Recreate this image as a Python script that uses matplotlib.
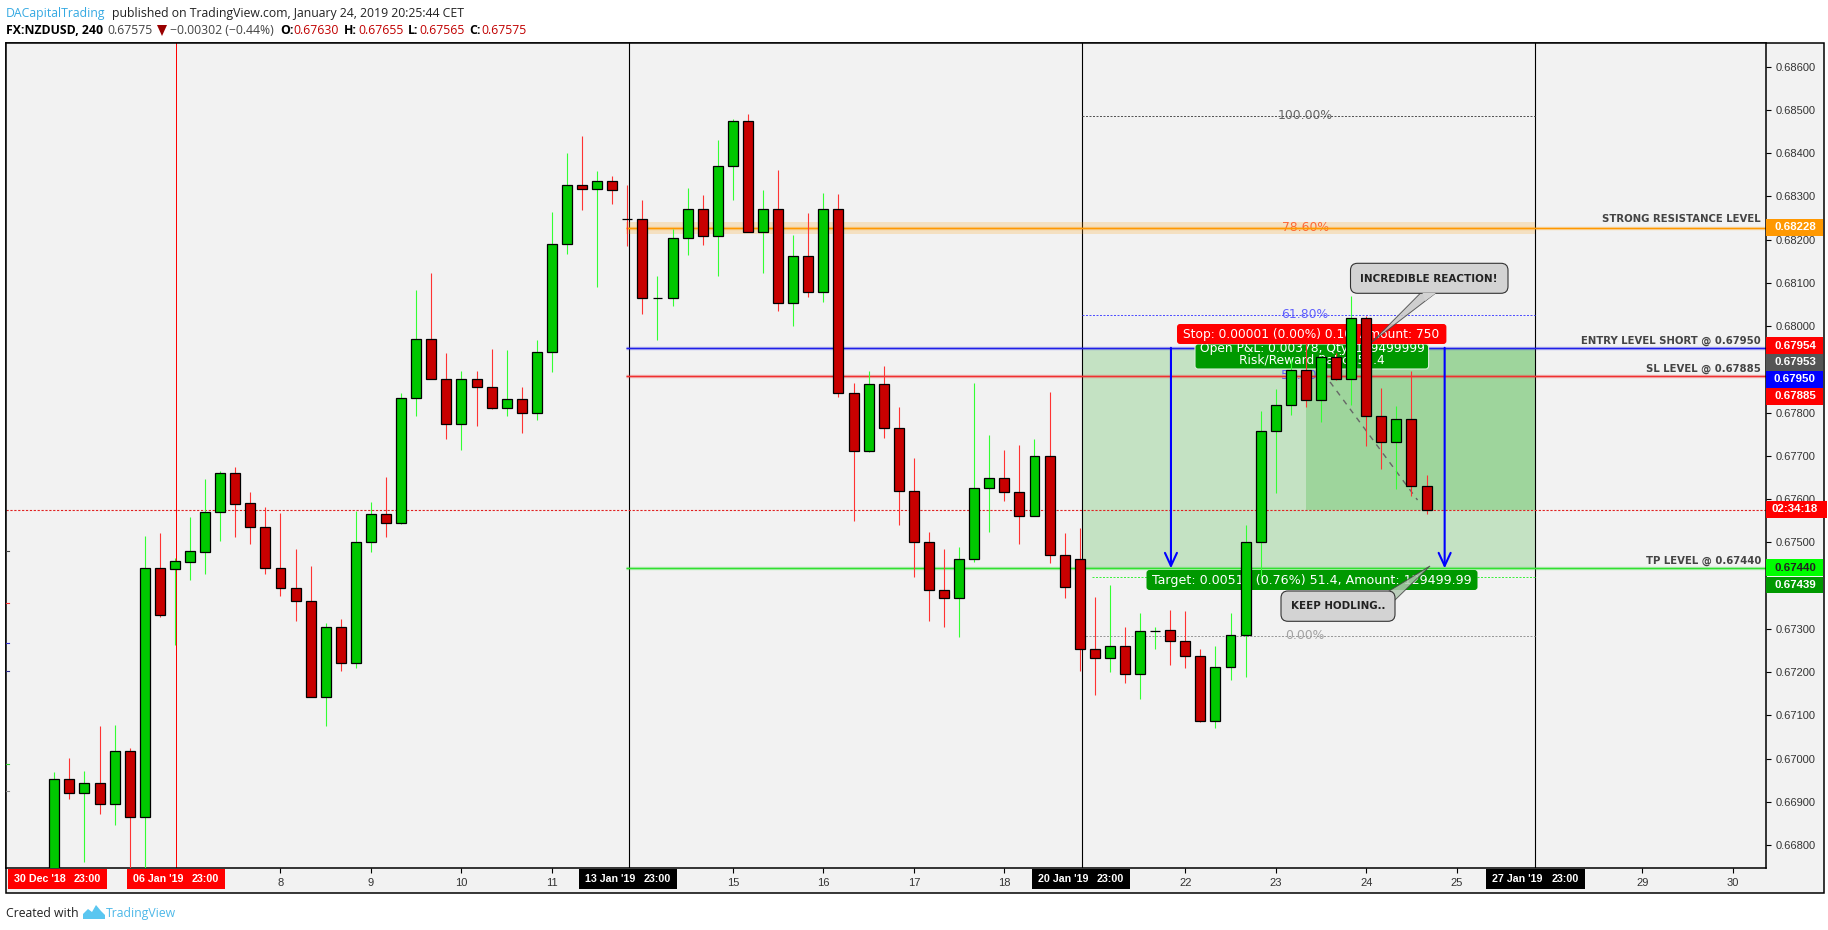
import numpy as np
import matplotlib
matplotlib.use('Agg')
import matplotlib.pyplot as plt
from matplotlib.patches import Rectangle, FancyBboxPatch, Polygon
from matplotlib.transforms import Affine2D

W, H = 1828, 930
BG = '#f2f2f2'

# candles, in 1e-5 of a price unit
opens = [66720, 66952, 66921, 66943, 66896, 67017, 66866, 67440, 67438, 67455, 67478, 67570, 67660, 67590, 67536, 67441,
         67395, 67365, 67143, 67304, 67220, 67502, 67565, 67545, 67835, 67970, 67878, 67774, 67877, 67860, 67811, 67831,
         67800, 67940, 68189, 68326, 68318, 68335, 68248, 68247, 68065, 68066, 68205, 68270, 68209, 68370, 68474, 68218,
         68270, 68053, 68162, 68078, 68270, 67845, 67711, 67866, 67764, 67620, 67502, 67391, 67371, 67462, 67625, 67650,
         67616, 67560, 67699, 67470, 67461, 67253, 67232, 67260, 67195, 67296, 67297, 67271, 67238, 67088, 67211, 67287,
         67502, 67757, 67817, 67898, 67830, 67928, 67878, 68020, 67792, 67733, 67785, 67630]
highs = [66969, 67001, 66971, 67075, 67078, 67024, 67515, 67522, 67464, 67559, 67646, 67664, 67674, 67616, 67582, 67568,
         67485, 67445, 67313, 67323, 67572, 67593, 67651, 67845, 68084, 68122, 67938, 67896, 67896, 67947, 67945, 67859,
         67968, 68264, 68400, 68440, 68359, 68347, 68326, 68292, 68116, 68225, 68320, 68303, 68431, 68479, 68491, 68315,
         68361, 68211, 68262, 68308, 68306, 67869, 67896, 67908, 67813, 67695, 67524, 67485, 67489, 67869, 67748, 67714,
         67725, 67739, 67848, 67522, 67533, 67374, 67401, 67304, 67337, 67304, 67344, 67341, 67253, 67260, 67337, 67540,
         67804, 67855, 67924, 67961, 67933, 67938, 68070, 68024, 67857, 67815, 67896, 67655]
lows = [66670, 66907, 66761, 66872, 66846, 66719, 66719, 67327, 67263, 67413, 67428, 67503, 67512, 67496, 67427, 67376,
        67318, 67143, 67075, 67202, 67210, 67478, 67512, 67542, 67792, 67878, 67739, 67714, 67769, 67808, 67792, 67753,
        67783, 67894, 68167, 68269, 68091, 68283, 68185, 68028, 67968, 68047, 68165, 68188, 68116, 68292, 68218, 68123,
        68035, 68000, 68067, 68056, 67836, 67549, 67709, 67741, 67540, 67421, 67319, 67305, 67281, 67455, 67524, 67596,
        67496, 67560, 67452, 67371, 67202, 67147, 67200, 67175, 67138, 67253, 67216, 67209, 67085, 67071, 67182, 67189,
        67420, 67615, 67795, 67814, 67779, 67876, 67818, 67723, 67670, 67623, 67607, 67565]
closes = [66952, 66921, 66943, 66896, 67017, 66866, 67440, 67333, 67456, 67479, 67570, 67660, 67589, 67536, 67441, 67395,
          67365, 67143, 67304, 67220, 67502, 67565, 67545, 67835, 67970, 67878, 67774, 67877, 67860, 67811, 67831, 67800,
          67940, 68189, 68326, 68318, 68335, 68316, 68247, 68066, 68066, 68205, 68270, 68209, 68370, 68474, 68218, 68270,
          68053, 68162, 68078, 68270, 67845, 67711, 67866, 67764, 67620, 67502, 67391, 67371, 67462, 67625, 67650, 67616,
          67560, 67699, 67470, 67398, 67253, 67232, 67260, 67195, 67294, 67296, 67271, 67238, 67088, 67211, 67287, 67502,
          67757, 67817, 67898, 67830, 67928, 67878, 68020, 67792, 67733, 67785, 67631, 67575]

price_ticks = [0.668 + 0.001 * k for k in range(19)]
day_pos = [15, 21, 27, 33, 45, 51, 57, 63, 75, 81, 87, 93, 105.3, 111.3]
day_labels = ['8', '9', '10', '11', '15', '16', '17', '18', '22', '23', '24', '25', '29', '30']

session_pos = [8.09, 38.09, 68.13, 98.17]
session_colors = ['#ff0000', 'black', 'black', 'black']

level_prices = [0.68228, 0.67950, 0.67885, 0.67440]
level_colors = ['#ff9800', '#2020e8', '#f03030', '#30e030']
level_names = ['STRONG RESISTANCE LEVEL', 'ENTRY LEVEL SHORT @ 0.67950', 'SL LEVEL @ 0.67885', 'TP LEVEL @ 0.67440']
level_text_y = [219, 341, 369, 561]

fib_prices = [0.68487, 0.68228, 0.68027, 0.67885, 0.67284]
fib_labels = ['100.00%', '78.60%', '61.80%', '50.00%', '0.00%']
fib_colors = ['#555555', '#ff5a28', '#5050ff', '#5050ff', '#999999']

left_marks = [0.67479, 0.67361, 0.67267, 0.67202, 0.66987, 0.66925]
left_mark_colors = ['#444444', '#ff3030', '#3030d0', '#303090', '#30d030', '#888888']

fig = plt.figure(figsize=(W / 100, H / 100), dpi=100, facecolor='white')
ax = fig.add_axes([6 / W, (H - 868) / H, 1760 / W, 825 / H], facecolor=BG)

# pixel transform for chart furniture (origin at top left)
px = Affine2D().scale(1 / W, -1 / H).translate(0, 1) + fig.transFigure

fig.add_artist(Rectangle((6, 43), 1818, 850, transform=px, facecolor=BG, edgecolor='black', lw=1.1, zorder=-1))

x_left, x_right = -3.203, 113.51
ax.set_xlim(x_left, x_right)
ax.set_ylim(0.66747, 0.68655)


def txt(x, y, s, color='black', size=13, weight='normal', ha='left', family='DejaVu Sans', z=9, alpha=None):
    ax.text(x, y, s, transform=px, color=color, fontsize=size * 0.72, fontweight=weight, ha=ha, va='center',
            family=family, zorder=z, alpha=alpha)


def box(x0, y0, x1, y1, color, z=7, round_px=0, edge='none'):
    if round_px:
        p = FancyBboxPatch((x0 + round_px, y0 + round_px), x1 - x0 - 2 * round_px, y1 - y0 - 2 * round_px,
                           boxstyle='round,pad=%g,rounding_size=%g' % (round_px, round_px),
                           transform=px, facecolor=color, edgecolor=edge, lw=0.8, zorder=z, clip_on=False)
    else:
        p = Rectangle((x0, y0), x1 - x0, y1 - y0, transform=px, facecolor=color, edgecolor=edge, lw=0,
                      zorder=z, clip_on=False)
    ax.add_patch(p)


# position tool
ax.fill_between([68.13, 98.17], 0.67440, 0.67950, color='#c4e2c3', lw=0, zorder=0.5)
ax.fill_between([83.0, 98.17], 0.67575, 0.67950, color='#9ed59c', lw=0, zorder=0.6)

# session verticals
for pos, col in zip(session_pos, session_colors):
    ax.axvline(pos, color=col, lw=0.8 if col == 'black' else 0.72, zorder=1)

# fib levels
for p, lab, col in zip(fib_prices, fib_labels, fib_colors):
    ax.plot([68.13, 98.17], [p, p], color=col, lw=0.72, ls=(0, (2, 1.5)), zorder=1)
    ax.text(82.94, p, lab, color=col, fontsize=8.9, ha='center', va='center', zorder=1.2, alpha=0.9)
ax.plot([68.8, 98.17], [0.67421, 0.67421], color='#40f040', lw=0.72, ls=(0, (2, 1.5)), zorder=1)

# orange zone
ax.fill_between([37.9, 98.17], 0.68214, 0.68242, color='#ff9800', alpha=0.2, lw=0, zorder=1)

# horizontal levels
for p, col in zip(level_prices, level_colors):
    ax.plot([37.9, x_right], [p, p], color=col, lw=2.4, alpha=0.4, zorder=1.5, solid_capstyle='butt')
    ax.plot([37.9, x_right], [p, p], color=col, lw=0.8, zorder=1.6, solid_capstyle='butt')

# current price line
ax.plot([x_left, x_right], [0.67575, 0.67575], color='#e02020', lw=0.8, ls=(0, (2, 1.5)), zorder=1.7)

# trend line under the last candles
ax.plot([84.6, 90.4], [0.67871, 0.67598], color='#666666', lw=1.0, ls=(0, (4, 4)), zorder=1.8)

# arrows
for xa in [74.05, 92.2]:
    ax.annotate('', xy=(xa, 0.67440), xytext=(xa, 0.67950),
                arrowprops=dict(arrowstyle='->,head_length=0.78,head_width=0.36', color='#0000ff', lw=1.5,
                                shrinkA=0, shrinkB=0, mutation_scale=12), zorder=2)

# order labels, candles run over them
box(1195, 344, 1428.6, 369, '#009900', z=3, round_px=3, edge='#d8efd8')
txt(1312, 348, 'Open P&L: 0.00378, Qty: 129499999', 'white', 12.3, ha='center', z=3.1)
txt(1312, 360, 'Risk/Reward Ratio: 51.4', 'white', 12.3, ha='center', z=3.1)
box(1177, 324, 1446.4, 344, '#ff0000', z=3.2, round_px=3)
txt(1311, 334, 'Stop: 0.00001 (0.00%) 0.10, Amount: 750', 'white', 12.3, ha='center', z=3.3)
box(1146.5, 570, 1477.5, 590, '#009900', z=3.2, round_px=3)
txt(1312, 580, 'Target: 0.00511 (0.76%) 51.4, Amount: 129499.99', 'white', 12.6, ha='center', z=3.3)

# candles
o = np.array(opens) / 1e5
h = np.array(highs) / 1e5
l = np.array(lows) / 1e5
c = np.array(closes) / 1e5
idx = np.arange(len(o))
up = c >= o
ax.vlines(idx[up], l[up], h[up], color='#33ff33', lw=0.8, zorder=4)
ax.vlines(idx[~up], l[~up], h[~up], color='#ff3333', lw=0.8, zorder=4)
ax.bar(idx[up], (c - o)[up], bottom=o[up], width=0.66, color='#00c800', edgecolor='black', lw=0.9, zorder=5)
ax.bar(idx[~up], (c - o)[~up], bottom=o[~up], width=0.66, color='#c80000', edgecolor='black', lw=0.9, zorder=5)

# left side scale marks
for p, col in zip(left_marks, left_mark_colors):
    ax.plot([x_left, x_left + 0.2], [p, p], color=col, lw=0.8, zorder=3, clip_on=False)

# axes
for s in ax.spines.values():
    s.set_linewidth(1.1)
ax.yaxis.tick_right()
ax.set_yticks(price_ticks)
ax.set_yticklabels(['%.5f' % p for p in price_ticks], fontsize=8.0, color='#333333', family='Liberation Sans')
ax.set_xticks(day_pos)
ax.set_xticklabels(day_labels, fontsize=8.0, color='#333333', family='Liberation Sans')
ax.tick_params(axis='y', length=3.6, width=0.8, pad=3.5)
ax.tick_params(axis='x', length=3.6, width=0.8, pad=3.5)

# level names
for name, col, y in zip(level_names, level_colors, level_text_y):
    txt(1761, y, name, '#444444', 10.1, weight='bold', ha='right', z=2)

# price tags
tags = [(219, 235.7, '0.68228', '#ff9800'), (337.3, 353.7, '0.67954', '#ff0000'), (354, 370.7, '0.67953', '#555555'),
        (371, 387.7, '0.67950', '#0000ff'), (388, 404.7, '0.67885', '#ff0000'), (501, 517.7, '02:34:18', '#ff0000'),
        (559.3, 576, '0.67440', '#00ff00'), (577, 592.7, '0.67439', '#009900')]
for y0, y1, s, col in tags:
    right = 1827 if ':' in s else 1822.5
    box(1766, y0, right, y1, col)
    tc = '#222222' if col == '#00ff00' else 'white'
    txt(1795, (y0 + y1) / 2, s, tc, 11.5, weight='bold', ha='center', family='Liberation Sans')

# session tags on the time axis
sess = [(8, 107, "30 Dec '18", '#ff0000'), (126.8, 224.6, "06 Jan '19", '#ff0000'), (579, 677, "13 Jan '19", 'black'),
        (1032, 1130, "20 Jan '19", 'black'), (1486, 1584.7, "27 Jan '19", 'black')]
for x0, x1, s, col in sess:
    box(x0, 869, x1, 889, col)
    txt(x0 + 6, 879, s, 'white', 10.6, weight='bold', family='Liberation Sans')
    txt(x1 - 6, 879, '23:00', 'white', 10.8, weight='bold', ha='right', family='Liberation Sans')

# callouts
ax.add_patch(Polygon([(1421.6, 292), (1437, 292), (1372, 342)], closed=True, transform=px, facecolor='#c8c8c8',
                     edgecolor='#444444', lw=0.7, alpha=0.85, zorder=6, clip_on=False))
box(1350.5, 263.3, 1508, 293.3, '#d3d3d3', z=6.1, round_px=7, edge='#333333')
ax.add_patch(Polygon([(1422.5, 293), (1436, 293), (1425, 301)], closed=True, transform=px, facecolor='#d3d3d3',
                     edgecolor='none', zorder=6.2, clip_on=False))
txt(1429, 278.5, 'INCREDIBLE REACTION!', '#222222', 10.4, weight='bold', ha='center', z=6.3)
ax.add_patch(Polygon([(1387.5, 592), (1395, 600), (1430, 566)], closed=True, transform=px, facecolor='#b0c8b0',
                     edgecolor='#444444', lw=0.7, alpha=0.85, zorder=6, clip_on=False))
box(1281, 591, 1395, 621.3, '#d3d3d3', z=6.1, round_px=7, edge='#333333')
txt(1338, 606, 'KEEP HODLING..', '#222222', 10.3, weight='bold', ha='center', z=6.3)

# header
HF = 'Open Sans'
def head(x, y, s, color='#222222', weight='normal'):
    fig.text(x / W, 1 - y / H, s, color=color, fontsize=8.8, fontweight=weight, family=HF, va='center')


head(6, 13, 'DACapitalTrading', '#35a9e2')
head(111.5, 13, 'published on TradingView.com, January 24, 2019 20:25:44 CET')
head(6, 30, 'FX:NZDUSD, 240', 'black', 'bold')
head(107, 30, '0.67575', '#444444')
fig.add_artist(Polygon([(157, 25), (167, 25), (162, 36)], closed=True, transform=px, facecolor='#990000', edgecolor='none'))
head(170, 30, '\u22120.00302 (\u22120.44%)', '#444444')
head(280, 30, 'O:', 'black', 'bold')
head(293.8, 30, '0.67630', '#c00000')
head(344, 30, 'H:', 'black', 'bold')
head(358, 30, '0.67655', '#c00000')
head(408, 30, 'L:', 'black', 'bold')
head(419, 30, '0.67565', '#c00000')
head(469, 30, 'C:', 'black', 'bold')
head(481, 30, '0.67575', '#c00000')

# footer
head(6, 913, 'Created with')
head(106, 913, 'TradingView', '#4db8e8')
fig.add_artist(Polygon([(83, 919), (83, 914), (88, 909), (92, 912), (96, 905), (101, 911), (105, 915), (105, 919)],
                       closed=True, transform=px, facecolor='#5ac6f0', edgecolor='none'))

plt.savefig('out.png', dpi=100)
